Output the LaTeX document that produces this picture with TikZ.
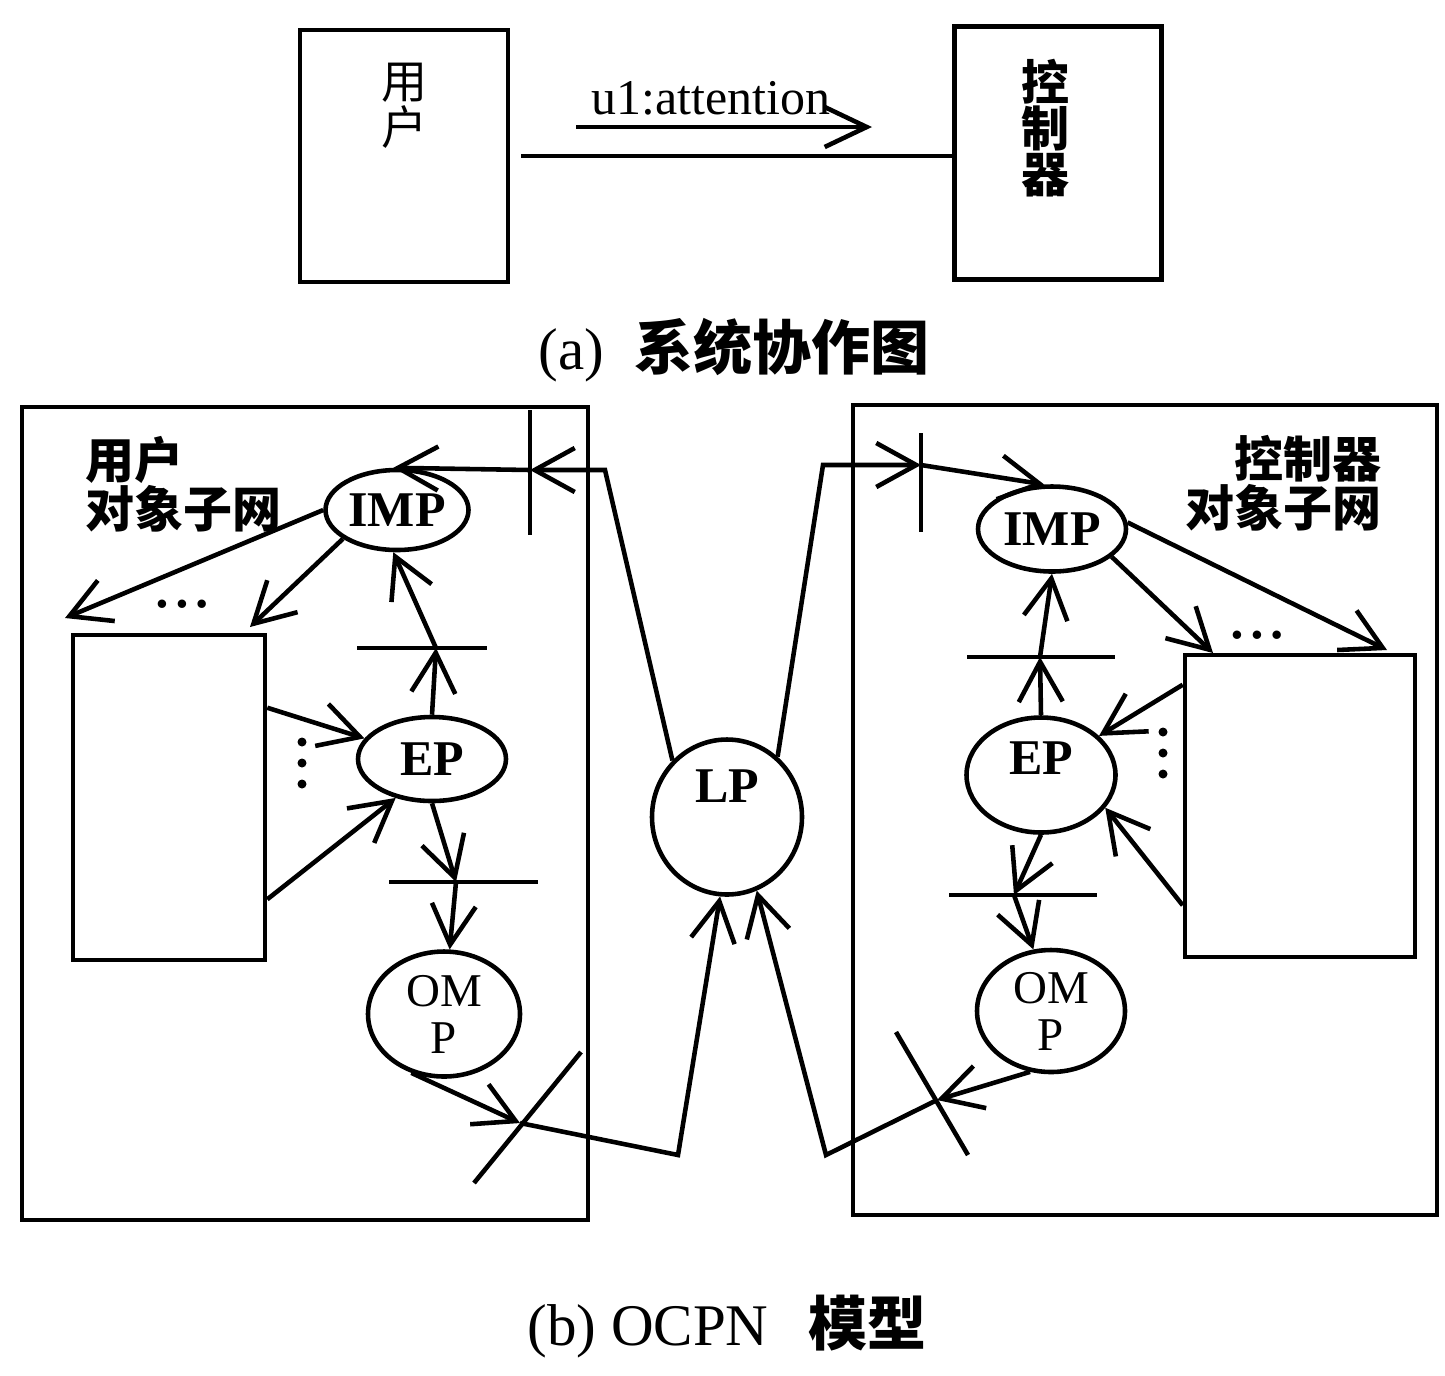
\documentclass[tikz,border=0pt]{standalone}
\usepackage{fontspec}
\setmainfont{Liberation Serif}
\newfontfamily\cjk{Noto Sans CJK SC}
\usepackage{tikz}
\usetikzlibrary{arrows.meta, shapes.geometric, calc}
\definecolor{ink}{HTML}{000000}
\tikzset{
    objbox/.style={
        rectangle, draw=ink, line width=1.3pt, inner sep=0pt
    },
    place/.style={
        ellipse, draw=ink, line width=1.3pt, inner sep=0pt,
        font=\fontsize{5mm}{5mm}\selectfont\bfseries
    },
    omp/.style={
        align=center, font=\fontsize{4.7mm}{4.7mm}\selectfont
    },
    flow/.style={
        -{Straight Barb[length=4mm, width=4.4mm]}, line width=1.3pt, color=ink
    },
    msgarrow/.style={
        -{Straight Barb[length=4.2mm, width=4mm]}, line width=1.3pt, color=ink
    },
    link/.style={
        line width=1.3pt, color=ink
    },
    trbar/.style={
        line width=1.3pt, color=ink
    },
    vname/.style={
        inner sep=0pt, align=center, text=ink
    },
    netlab/.style={
        inner sep=0pt, text=ink, font=\cjk\bfseries\fontsize{4.9mm}{4.9mm}\selectfont
    },
    msglab/.style={
        inner sep=0pt, text=ink, font=\fontsize{5mm}{5mm}\selectfont
    },
    caption/.style={
        inner sep=0pt, text=ink, font=\fontsize{5.9mm}{5.9mm}\selectfont
    },
    dots/.style={
        inner sep=0pt, text=ink, font=\bfseries\fontsize{3.1mm}{3.1mm}\selectfont
    },
}

\begin{document}
\begin{tikzpicture}[x=0.1mm, y=-0.1mm]
    \useasboundingbox (0,0) rectangle (1445,1375);

    % (a) collaboration diagram
    \node[objbox, minimum width=20.8mm, minimum height=25.2mm] (ubox) at (404,156) {};
    \node[objbox, minimum width=20.7mm, minimum height=25.3mm] (cbox) at (1058,153) {};
    \node[vname, font=\cjk\fontsize{4.6mm}{4.6mm}\selectfont] (uname) at (404,106) {用\\户};
    \node[vname, font=\cjk\bfseries\fontsize{4.8mm}{4.6mm}\selectfont] (cname) at (1045,128) {控\\制\\器};
    \draw[link, shorten <=1.1mm] (ubox.east) -- (ubox.east -| cbox.west);

    % message
    \node[msglab] (msg) at (711,98) {u1:attention};
    \coordinate (msgfrom) at (576,127);
    \coordinate (msgto) at (872,127);
    \draw[msgarrow] (msgfrom) -- (msgto);

    \node[caption] (capa) at (734,350) {(a)\hspace{3mm}{\cjk\bfseries 系统协作图}};

    % (b) OCPN model: object subnets
    \node[objbox, minimum width=56.6mm, minimum height=81.3mm] (lbox) at (305,813.5) {};
    \node[objbox, minimum width=58.4mm, minimum height=81mm] (rbox) at (1145,810) {};
    \node[netlab, anchor=north west, align=left] (lnet) at (85,436) {用户\\对象子网};
    \node[netlab, anchor=north east, align=right] (rnet) at (1382,435) {控制器\\对象子网};

    \node[objbox, minimum width=19.2mm, minimum height=32.5mm] (lrect) at (169,797.5) {};
    \node[objbox, minimum width=23mm, minimum height=30.2mm] (rrect) at (1300,806) {};

    % places
    \node[place, minimum width=14.3mm, minimum height=8mm] (limp) at (397,510) {IMP};
    \node[place, minimum width=14.8mm, minimum height=8.4mm] (lep) at (432,759) {EP};
    \node[place, omp, minimum width=15.2mm, minimum height=12.5mm] (lomp) at (444,1014) {OM\\P};
    \node[place, minimum width=15mm, minimum height=15.5mm] (lp) at (727,817) {\raisebox{3.2mm}[3.5mm][0pt]{LP}};
    \node[place, minimum width=14.8mm, minimum height=8.5mm] (rimp) at (1052,529) {IMP};
    \node[place, minimum width=14.9mm, minimum height=11.5mm] (rep) at (1041,775) {\raisebox{1.8mm}[3.5mm][0pt]{EP}};
    \node[place, omp, minimum width=14.8mm, minimum height=12.2mm] (romp) at (1051,1011) {OM\\P};

    % dots
    \node[dots] (ldots) at (182,607) {•\hspace{0.9mm}•\hspace{0.9mm}•};
    \node[dots] (rdots) at (1257,638) {•\hspace{0.9mm}•\hspace{0.9mm}•};
    \coordinate (lvdots) at (302,763);
    \coordinate (rvdots) at (1163,753);
    \foreach \dy in {-21,0,21} {
        \fill[ink] ($(lvdots)+(0,\dy)$) circle (4.5);
        \fill[ink] ($(rvdots)+(0,\dy)$) circle (4.5);
    }

    % transitions
    \coordinate (lt1) at (530,470);
    \coordinate (lt2) at (436,648);
    \coordinate (lt3) at (456,882);
    \coordinate (lt4) at (520,1123);
    \coordinate (rt1) at (921,465);
    \coordinate (rt2) at (1040,657);
    \coordinate (rt3) at (1014,895);
    \coordinate (rt4) at (937,1100);
    \draw[trbar] ($(lt1)+(0,-60)$) -- ($(lt1)+(0,65)$);
    \draw[trbar] ($(lt2)+(-79,0)$) -- ($(lt2)+(51,0)$);
    \draw[trbar] ($(lt3)+(-67,0)$) -- ($(lt3)+(82,0)$);
    \draw[trbar] ($(lt4)+(61,-71)$) -- ($(lt4)+(-46,60)$);
    \draw[trbar] ($(rt1)+(0,-32)$) -- ($(rt1)+(0,67)$);
    \draw[trbar] ($(rt2)+(-73,0)$) -- ($(rt2)+(75,0)$);
    \draw[trbar] ($(rt3)+(-65,0)$) -- ($(rt3)+(83,0)$);
    \draw[trbar] ($(rt4)+(-41,-68)$) -- ($(rt4)+(31,55)$);

    % bends and outgoing ends
    \coordinate (lcor1) at (605,470);
    \coordinate (lcor2) at (678,1155);
    \coordinate (rcor1) at (823,465);
    \coordinate (rcor2) at (826,1155);
    \coordinate (lfar1) at (65,618);
    \coordinate (lfar2) at (250,627);
    \coordinate (rfar1) at (1387,650);
    \coordinate (rfar2) at (1213,653);

    % user subnet arcs
    \draw[flow] (lp.134) -- (lcor1) -- (lt1);
    \draw[flow] (lt1) -- (limp.95);
    \draw[flow] (limp.west) -- (lfar1);
    \draw[flow] (limp.208) -- (lfar2);
    \draw[flow] ($(lrect.north east)+(0,75)$) -- (lep.163);
    \draw[flow] ($(lrect.south east)+(0,-63)$) -- (lep.227);
    \draw[flow] (lep.north) -- (lt2);
    \draw[flow] (lt2) -- (limp.265);
    \draw[flow] (lep.south) -- (lt3);
    \draw[flow] (lt3) -- (lomp.85);
    \draw[flow] (lomp.241) -- (lt4);
    \draw[flow] (lt4) -- (lcor2) -- (lp.265);

    % controller subnet arcs
    \draw[flow] (lp.50) -- (rcor1) -- (rt1);
    \draw[flow] (rt1) -- (rimp.100);
    \draw[flow] (rimp.5) -- (rfar1);
    \draw[flow] (rimp.-25) -- (rfar2);
    \draw[flow] ($(rrect.north west)+(0,32)$) -- (rep.34);
    \draw[flow] ($(rrect.south west)+(0,-54)$) -- (rep.-27);
    \draw[flow] (rep.north) -- (rt2);
    \draw[flow] (rt2) -- (rimp.south);
    \draw[flow] (rep.south) -- (rt3);
    \draw[flow] (rt3) -- (romp.106);
    \draw[flow] (romp.251) -- (rt4);
    \draw[flow] (rt4) -- (rcor2) -- (lp.-68);

    \node[caption] (capb) at (727,1327) {(b) OCPN\hspace{4mm}{\cjk\bfseries 模型}};

\end{tikzpicture}
\end{document}
